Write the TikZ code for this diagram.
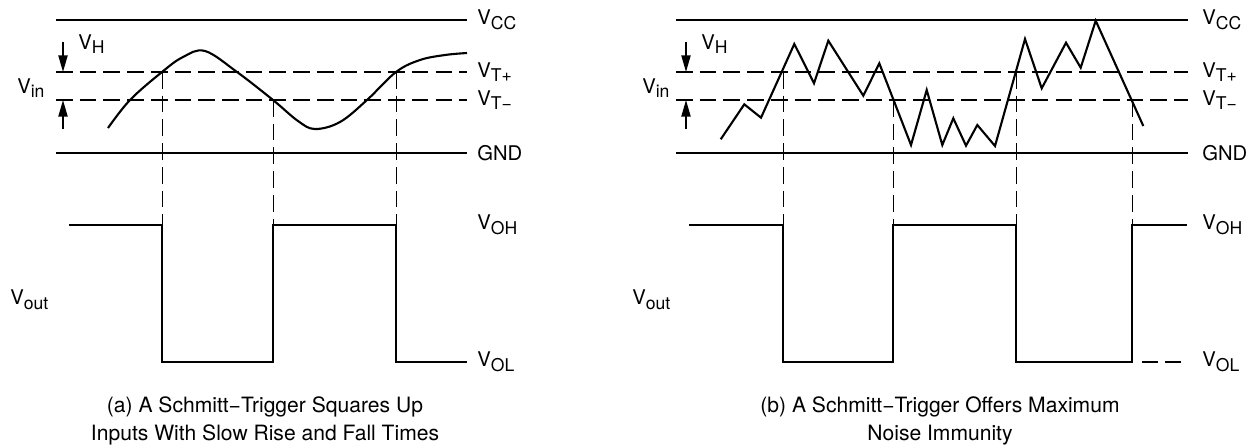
\documentclass[tikz,border=0pt]{standalone}
\usepackage{fontspec}
\setmainfont{TeX Gyre Heros}
\usetikzlibrary{arrows.meta}
\newcommand{\lvlsub}[1]{\raisebox{-2.6pt}{\fontsize{10}{10}\selectfont #1}}
\tikzset{
	level/.style={line width=1.2pt},
	thresh/.style={line width=1.1pt, dash pattern=on 9.5pt off 4pt},
	guide/.style={line width=0.55pt, dash pattern=on 9.5pt off 4pt},
	wave/.style={line width=1.2pt, line join=miter},
	marker/.style={line width=1pt, -{Triangle[length=9.5pt, width=5.2pt]}},
	lbl/.style={anchor=west, inner sep=0pt, font=\fontsize{11.5}{13}\selectfont},
	caption/.style={align=center, inner sep=0pt, font=\fontsize{12}{15.9}\selectfont},
}
\begin{document}
\begin{tikzpicture}[x=0.02cm, y=-0.02cm]
	\useasboundingbox (0,0) rectangle (1256,447);

	% levels and labels of both panels
	\foreach \xa/\xb/\xl/\xh in {56/467/477/63, 676/1188/1202/686} {
		\draw[level] (\xa, 20) -- (\xb, 20);
		\draw[thresh] (\xa, 72) -- (\xb, 72);
		\draw[thresh] (\xa, 100) -- (\xb, 100);
		\draw[level] (\xa, 153) -- (\xb, 153);
		\node[lbl] at (\xl, 20) {V\lvlsub{CC}};
		\node[lbl] at (\xl, 72) {V\lvlsub{T+}};
		\node[lbl] at (\xl, 100) {V\lvlsub{T\textminus}};
		\node[lbl] at (\xl, 153) {GND};
		\node[lbl] at (\xl, 225) {V\lvlsub{OH}};
		\node[lbl] at (\xl, 362) {V\lvlsub{OL}};
		\draw[marker] (\xh, 42) -- (\xh, 72);
		\draw[marker] (\xh, 129) -- (\xh, 100);
		\node[lbl] at (\xh+15, 44) {V\lvlsub{H}};
	}
	\node[lbl] (vina) at (17, 88) {V\lvlsub{in}};
	\node[lbl] (vinb) at (642, 88) {V\lvlsub{in}};
	\node[lbl] (vouta) at (10, 300) {V\lvlsub{out}};
	\node[lbl] (voutb) at (632, 300) {V\lvlsub{out}};

	% (a) slow input
	\draw[wave] plot[smooth, tension=0.6] coordinates {(108,128) (130,100) (162,72) (183,57) (205,51) (237,72) (273,100) (298,121) (315,129) (340,122) (367,100) (396,72) (420,60) (445,55) (467,53)};
	\foreach \x/\y in {162/72, 273/100, 396/72}
		\draw[guide] (\x, \y) -- (\x, 225);
	\draw[wave] (69,225) -- (162,225) -- (162,362) -- (273,362) -- (273,225) -- (396,225) -- (396,362) -- (467,362);

	% (b) noisy input
	\draw[wave] (720.7,139.3) -- (744.3,104.3) -- (761,117.7) -- (794.3,44) -- (814,83.3) -- (828.3,40.7) -- (863.3,95.7) -- (879.3,63.3) -- (911,145) -- (926.7,90) -- (942.3,145) -- (953.3,118.3) -- (966,145.7) -- (977.3,125) -- (995,146) -- (1025,39) -- (1041.7,88.3) -- (1066,42.7) -- (1080.7,67.7) -- (1095.7,20.7) -- (1143.3,126);
	\foreach \x/\y in {783/72, 893/100, 1016/72, 1132/100}
		\draw[guide] (\x, \y) -- (\x, 225);
	\draw[wave] (689,225) -- (783,225) -- (783,362) -- (893,362) -- (893,225) -- (1016,225) -- (1016,362) -- (1132,362) -- (1132,225) -- (1187,225);
	\draw[guide, line width=0.7pt, dash pattern=on 9pt off 4pt] (1142,362) -- (1187,362);

	\node[caption] (capa) at (265,421) {(a) A Schmitt\textminus Trigger Squares Up\\Inputs With Slow Rise and Fall Times};
	\node[caption] (capb) at (940,421) {(b) A Schmitt\textminus Trigger Offers Maximum\\Noise Immunity};
\end{tikzpicture}
\end{document}
